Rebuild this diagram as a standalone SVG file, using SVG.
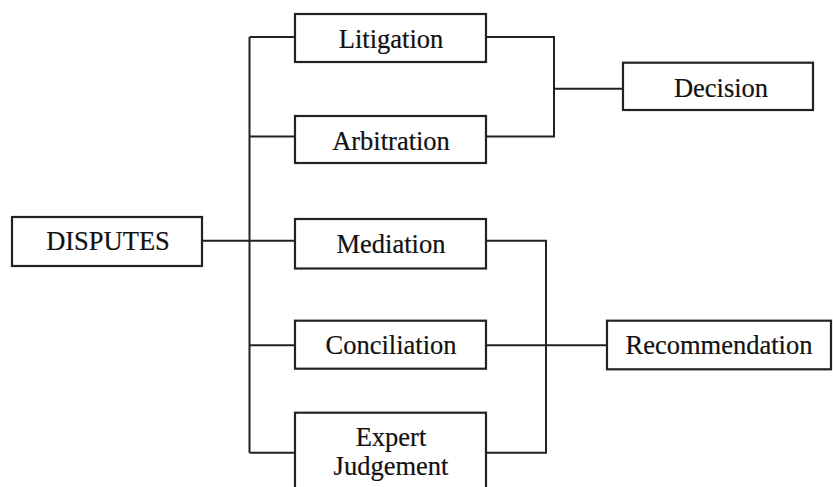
<svg xmlns="http://www.w3.org/2000/svg" width="833" height="487" viewBox="0 0 833 487">
<style>
.box{fill:#fff;stroke:#222;stroke-width:2.2}
.ln{fill:none;stroke:#222;stroke-width:2}
text{font-family:"Liberation Serif","Times New Roman",serif;font-size:26.5px;fill:#111;stroke:#111;stroke-width:0.2;text-anchor:middle}
</style>
<rect width="833" height="487" fill="#fff"/>
<g id="connectors">
<path class="ln" d="M202 240.7H295M249.5 37V452.7M249.5 37H295M249.5 136.5H295M249.5 345.3H295M249.5 452.7H295"/>
<path class="ln" d="M486 37H554V136.5H486M554 88.7H623"/>
<path class="ln" d="M486 240.7H546V452.7H486M486 345.3H607"/>
</g>
<g id="disputes"><rect class="box" x="12" y="217" width="190" height="49"/><text x="108" y="250">DISPUTES</text></g>
<g id="litigation"><rect class="box" x="295" y="14" width="191" height="48"/><text x="391" y="48">Litigation</text></g>
<g id="arbitration"><rect class="box" x="295" y="116" width="191" height="47"/><text x="391" y="150">Arbitration</text></g>
<g id="mediation"><rect class="box" x="295" y="219" width="191" height="49.5"/><text x="391" y="253">Mediation</text></g>
<g id="conciliation"><rect class="box" x="295" y="320.7" width="191" height="48"/><text x="391" y="354">Conciliation</text></g>
<g id="expert"><rect class="box" x="295" y="412.7" width="191" height="90"/><text x="391" y="445.5">Expert</text><text x="391" y="474.5">Judgement</text></g>
<g id="decision"><rect class="box" x="623" y="62.7" width="190" height="47.3"/><text x="721" y="97">Decision</text></g>
<g id="recommendation"><rect class="box" x="607" y="320.7" width="224" height="48.6"/><text x="719" y="354">Recommendation</text></g>
</svg>
